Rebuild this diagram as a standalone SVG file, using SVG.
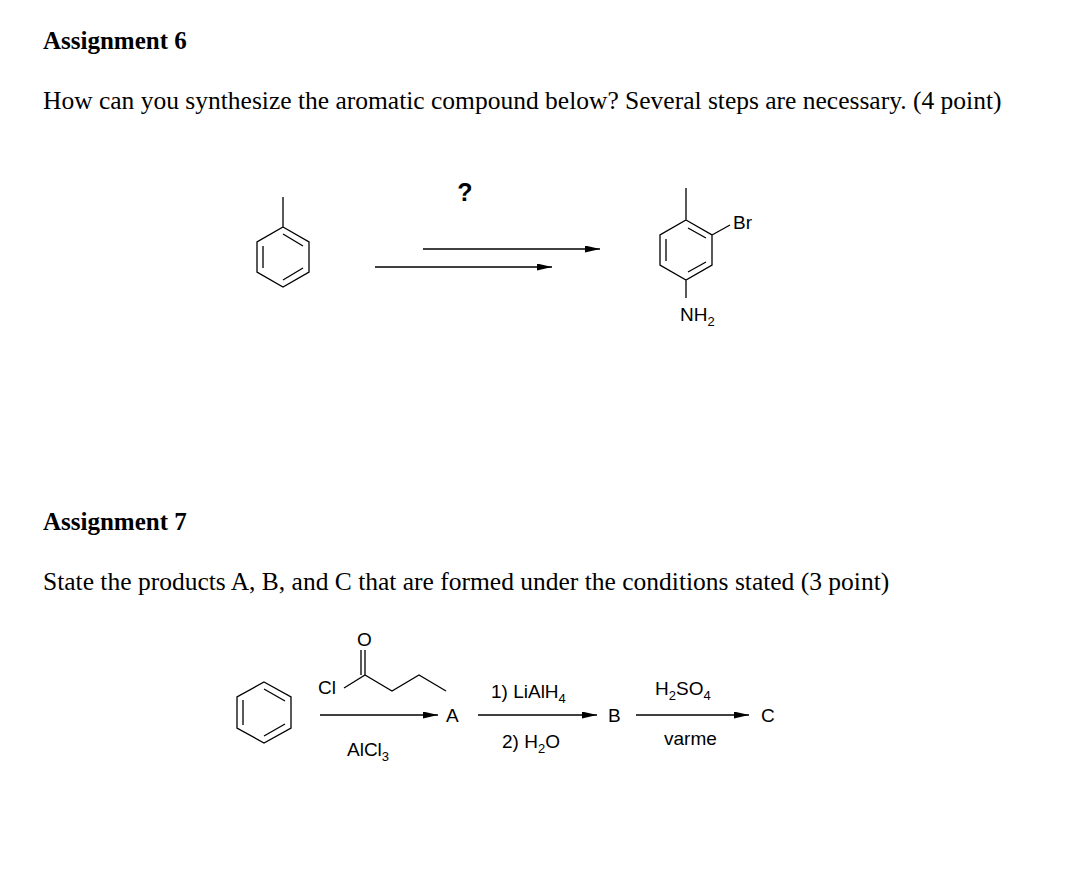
<svg xmlns="http://www.w3.org/2000/svg" width="1066" height="884" viewBox="0 0 1066 884">
<style>
.h{font-family:"Liberation Serif",serif;font-size:25px;font-weight:bold}
.p{font-family:"Liberation Serif",serif;font-size:25.5px}
.c{font-family:"Liberation Sans",sans-serif;font-size:19px}
.s{font-size:13px}
.b{stroke:#000;stroke-width:1.3;fill:none}
</style>
<defs><marker id="ah" markerWidth="15" markerHeight="7" refX="15" refY="3.5" orient="auto" markerUnits="userSpaceOnUse"><path d="M0,0L15,3.5L0,7z"/></marker></defs>
<rect width="1066" height="884" fill="#fff"/>
<text class="h" x="43" y="49">Assignment 6</text>
<text class="p" x="43" y="109">How can you synthesize the aromatic compound below? Several steps are necessary. (4 point)</text>
<text class="h" x="43" y="530">Assignment 7</text>
<text class="p" x="43" y="590">State the products A, B, and C that are formed under the conditions stated (3 point)</text>
<g id="toluene" class="b">
<path d="M283,227L309,242L309,272L283,287L257,272L257,242Z M283,227V197 M283,234L303,246 M303,268L283,280 M263,246V268"/>
</g>
<g id="product">
<path class="b" d="M686,220L712,235L712,265L686,280L660,265L660,235Z M686,220V188 M712,235L730,225 M686,280V298 M688,228L706,238 M706,262L688,272 M666,239V261"/>
<text class="c" x="733" y="229">Br</text>
<text class="c" x="680" y="321">NH<tspan class="s" dy="5">2</tspan></text>
</g>
<g id="q"><text x="465" y="201" style="font-family:'Liberation Sans',sans-serif;font-size:25px;font-weight:bold" text-anchor="middle">?</text></g>
<g id="benzene" class="b">
<path d="M264,682L291,697L291,728L264,743L237,728L237,697Z M264,689L285,701 M285,724L264,736 M243,700V725"/>
</g>
<g id="acyl">
<path class="b" d="M344,688L365,675L392,691L419,675L446,691 M365,675V650 M361,675V650"/>
<text class="c" x="318" y="694">Cl</text>
<text class="c" x="357" y="646">O</text>
</g>
<g id="labels" class="c">
<text x="347" y="756">AlCl<tspan class="s" dy="5">3</tspan></text>
<text x="446" y="722">A</text>
<text x="491" y="698">1) LiAlH<tspan class="s" dy="5">4</tspan></text>
<text x="502" y="748">2) H<tspan class="s" dy="5">2</tspan><tspan dy="-5">O</tspan></text>
<text x="608" y="722">B</text>
<text x="655" y="695">H<tspan class="s" dy="5">2</tspan><tspan dy="-5">SO</tspan><tspan class="s" dy="5">4</tspan></text>
<text x="664" y="745">varme</text>
<text x="761" y="722">C</text>
</g>
<g id="connectors" stroke="#000" stroke-width="1.3">
<line x1="423" y1="249" x2="600" y2="249" marker-end="url(#ah)"/>
<line x1="375" y1="267" x2="552" y2="267" marker-end="url(#ah)"/>
<line x1="320" y1="715" x2="438" y2="715" marker-end="url(#ah)"/>
<line x1="478" y1="715" x2="597" y2="715" marker-end="url(#ah)"/>
<line x1="636" y1="715" x2="749" y2="715" marker-end="url(#ah)"/>
</g>
</svg>
